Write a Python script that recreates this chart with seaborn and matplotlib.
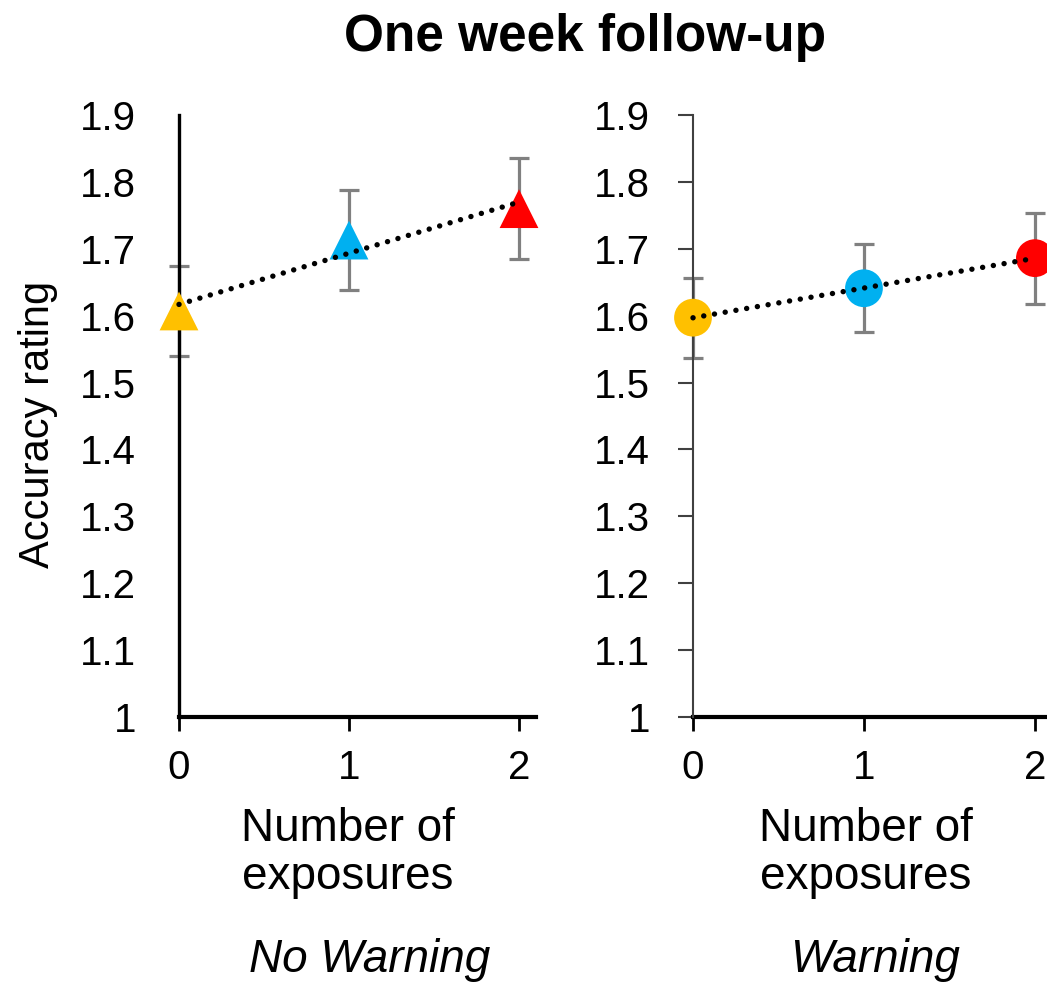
import matplotlib
matplotlib.use("Agg")
import matplotlib.pyplot as plt
import seaborn as sns
import pandas as pd

# Data
exposures = [0, 1, 2]
exposure_levels = ["0", "1", "2"]
no_warning_mean = [1.607, 1.713, 1.760]
no_warning_err = [0.067, 0.075, 0.075]
warning_mean = [1.597, 1.641, 1.686]
warning_err = [0.060, 0.066, 0.068]
point_colors = ["#FFC000", "#00B0F0", "#FF0000"]
y_ticks = [1.0, 1.1, 1.2, 1.3, 1.4, 1.5, 1.6, 1.7, 1.8, 1.9]
y_tick_labels = ["1", "1.1", "1.2", "1.3", "1.4", "1.5", "1.6", "1.7", "1.8", "1.9"]
x_tick_labels = ["0", "1", "2"]
panel_names = ["No Warning", "Warning"]
title = "One week follow-up"
y_label = "Accuracy rating"
x_label = "Number of\nexposures"

sns.set_theme(style="white")
plt.rcParams["font.family"] = ["Liberation Sans", "DejaVu Sans"]
plt.rcParams["text.color"] = "black"
plt.rcParams["xtick.color"] = "black"
plt.rcParams["ytick.color"] = "black"
plt.rcParams["xtick.labelcolor"] = "black"
plt.rcParams["ytick.labelcolor"] = "black"

W, H = 1047, 985
fig = plt.figure(figsize=(W / 100, H / 100), dpi=100)

def px_box(left, right, top, bottom):
    return [left / W, 1 - bottom / H, (right - left) / W, (bottom - top) / H]

ax_left = fig.add_axes(px_box(179, 536, 115, 717))
ax_right = fig.add_axes(px_box(693, 1052, 115, 717))

panels = [
    (ax_left, no_warning_mean, no_warning_err, "^"),
    (ax_right, warning_mean, warning_err, "o"),
]

for ax, means, errs, marker in panels:
    df = pd.DataFrame({"exposures": exposures, "level": exposure_levels,
                       "mean": means, "err": errs})
    eb = ax.errorbar(df["exposures"], df["mean"], yerr=df["err"], fmt="none",
                     ecolor="#808080", elinewidth=2.3, capsize=7.5,
                     capthick=2.3, zorder=2)
    for art in eb.lines[1] + eb.lines[2]:
        art.set_clip_on(False)
    sns.scatterplot(data=df, x="exposures", y="mean", hue="level",
                    palette=point_colors, marker=marker,
                    s=780 if marker == "^" else 740, edgecolor="none",
                    legend=False, ax=ax, zorder=3, clip_on=False)
    # Linear trend line across the three exposure levels
    sns.regplot(data=df, x="exposures", y="mean", scatter=False, ci=None,
                ax=ax, truncate=True,
                line_kws=dict(color="black", lw=3.9,
                              linestyle=(0, (0.01, 2.0)),
                              dash_capstyle="round", zorder=4))
    for ln in ax.lines:
        ln.set_clip_on(False)

    ax.set_xlim(0, 2.1)
    ax.set_ylim(1.0, 1.9)
    ax.set_xticks(exposures)
    ax.set_xticklabels(x_tick_labels)
    ax.set_yticks(y_ticks)
    ax.set_yticklabels(y_tick_labels)
    ax.set_xlabel("")
    ax.set_ylabel("")
    ax.grid(False)
    ax.set_facecolor("none")
    for side in ["top", "right"]:
        ax.spines[side].set_visible(False)
    ax.spines["bottom"].set_color("black")
    ax.spines["bottom"].set_linewidth(3.0)
    ax.spines["bottom"].set_zorder(1)
    ax.tick_params(axis="x", which="major", direction="out", length=10,
                   width=2.0, color="black", labelsize=29, pad=13,
                   bottom=True, labelcolor="black")

# Left panel: heavy y spine without tick marks
ax_left.spines["left"].set_color("black")
ax_left.spines["left"].set_linewidth(2.4)
ax_left.tick_params(axis="y", length=0, labelsize=29, pad=31, left=True,
                    labelcolor="black")

# Right panel: thinner y spine with outward tick marks
ax_right.spines["left"].set_color("#404040")
ax_right.spines["left"].set_linewidth(1.5)
ax_right.tick_params(axis="y", direction="out", length=11, width=1.5,
                     color="#404040", labelsize=29, pad=20, left=True,
                     labelcolor="black")

# Titles and labels
fig.text(585 / W, 1 - 38 / H, title, ha="center", va="center",
         fontsize=37, fontweight="bold", color="black")
fig.text(38 / W, 1 - 424 / H, y_label, ha="center", va="center",
         rotation=90, fontsize=30, color="black")
for cx in [348, 866]:
    fig.text(cx / W, 1 - 853 / H, x_label, ha="center", va="center",
             fontsize=33, linespacing=1.1, color="black")
for cx, name in [(370, panel_names[0]), (875, panel_names[1])]:
    fig.text(cx / W, 1 - 960 / H, name, ha="center", va="center",
             fontsize=33, style="italic", color="black")

fig.savefig("out.png", dpi=100)
